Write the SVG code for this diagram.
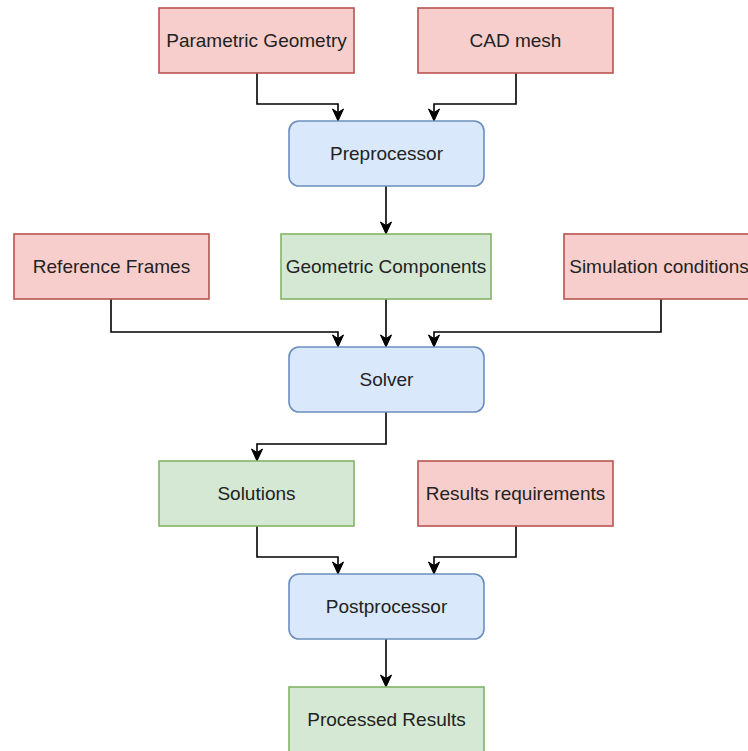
<svg xmlns="http://www.w3.org/2000/svg" width="748" height="751" viewBox="0 0 748 751">
<style>
.red{fill:#f8cecc;stroke:#b85450;stroke-width:1.6}
.green{fill:#d5e8d4;stroke:#82b366;stroke-width:1.6}
.blue{fill:#dae8fc;stroke:#6c8ebf;stroke-width:1.6}
text{font-family:"Liberation Sans",Arial,sans-serif;font-size:19px;fill:#222;text-anchor:middle}
.edge{fill:none;stroke:#000;stroke-width:1.6;marker-end:url(#arr)}
</style>
<defs>
<marker id="arr" markerUnits="userSpaceOnUse" markerWidth="14" markerHeight="14" viewBox="0 0 14 14" refX="13" refY="7" orient="auto">
<path d="M1,1.5 L13,7 L1,12.5 L4.5,7 Z" fill="#000" stroke="#000" stroke-width="1"/>
</marker>
</defs>
<rect width="748" height="751" fill="#fff"/>
<g id="connectors">
<path class="edge" d="M257,73 V104 H338 V121"/>
<path class="edge" d="M516,73 V104 H434 V121"/>
<path class="edge" d="M386,186 V234"/>
<path class="edge" d="M111,299 V332 H338 V347"/>
<path class="edge" d="M386,299 V347"/>
<path class="edge" d="M661,299 V332 H434 V347"/>
<path class="edge" d="M386,412 V444 H257 V461"/>
<path class="edge" d="M257,526 V557 H338 V574"/>
<path class="edge" d="M516,526 V557 H434 V574"/>
<path class="edge" d="M386,639 V687"/>
</g>
<g id="parametric-geometry"><rect class="red" x="159" y="8" width="195" height="65"/><text x="256.5" y="47">Parametric Geometry</text></g>
<g id="cad-mesh"><rect class="red" x="418" y="8" width="195" height="65"/><text x="515.5" y="47">CAD mesh</text></g>
<g id="preprocessor"><rect class="blue" x="289" y="121" width="195" height="65" rx="10"/><text x="386.5" y="160">Preprocessor</text></g>
<g id="reference-frames"><rect class="red" x="14" y="234" width="195" height="65"/><text x="111.5" y="273">Reference Frames</text></g>
<g id="geometric-components"><rect class="green" x="281" y="234" width="210" height="65"/><text x="386" y="273">Geometric Components</text></g>
<g id="simulation-conditions"><rect class="red" x="564" y="234" width="195" height="65"/><text x="659" y="273">Simulation conditions</text></g>
<g id="solver"><rect class="blue" x="289" y="347" width="195" height="65" rx="10"/><text x="386.5" y="386">Solver</text></g>
<g id="solutions"><rect class="green" x="159" y="461" width="195" height="65"/><text x="256.5" y="500">Solutions</text></g>
<g id="results-requirements"><rect class="red" x="418" y="461" width="195" height="65"/><text x="515.5" y="500">Results requirements</text></g>
<g id="postprocessor"><rect class="blue" x="289" y="574" width="195" height="65" rx="10"/><text x="386.5" y="613">Postprocessor</text></g>
<g id="processed-results"><rect class="green" x="289" y="687" width="195" height="65"/><text x="386.5" y="726">Processed Results</text></g>
</svg>
